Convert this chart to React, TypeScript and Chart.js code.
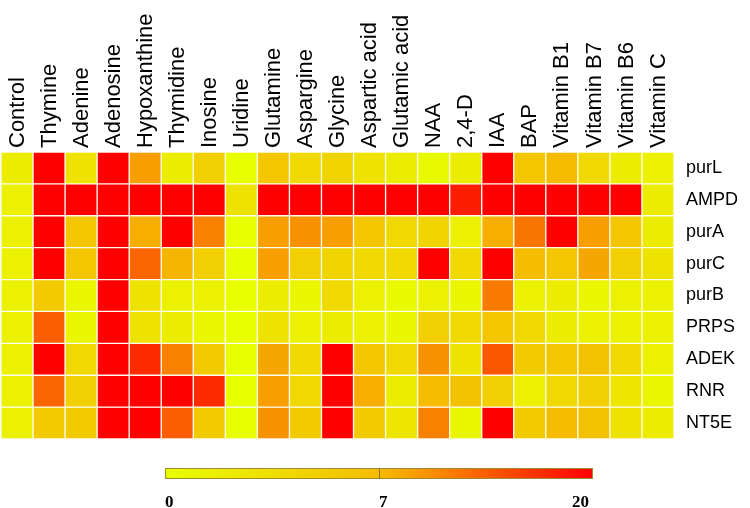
import React, { useEffect, useRef } from "react";
import { Chart, registerables } from "chart.js";
Chart.register(...registerables);

const TREATMENTS = [
  "Control", "Thymine", "Adenine", "Adenosine", "Hypoxanthine", "Thymidine", "Inosine",
  "Uridine", "Glutamine", "Aspargine", "Glycine", "Aspartic acid", "Glutamic acid",
  "NAA", "2,4-D", "IAA", "BAP", "Vitamin B1", "Vitamin B7", "Vitamin B6", "Vitamin C",
];
const GENES = ["purL", "AMPD", "purA", "purC", "purB", "PRPS", "ADEK", "RNR", "NT5E"];

const purL = [2, 20, 3, 20, 9, 2, 5, 0, 6, 4, 4.5, 3, 2, 0.5, 2, 20, 6, 7, 4, 2, 1.5];
const AMPD = [1.5, 20, 20, 20, 20, 20, 20, 3, 20, 20, 20, 20, 20, 20, 18, 20, 20, 20, 20, 20, 2];
const purA = [1.5, 20, 6, 20, 8, 20, 11, 0, 9, 10, 9, 6, 4, 4.5, 1.5, 8, 12, 20, 9, 6, 2];
const purC = [1.5, 20, 6, 20, 13, 7.5, 5, 0, 9, 5, 4.5, 4, 4, 20, 4, 20, 7, 6, 8.5, 5, 3];
const purB = [1.5, 5.5, 1, 20, 3, 1.5, 1.5, 0, 2, 1, 4, 1.5, 0.5, 1.5, 1, 11.5, 1.5, 2, 1, 1.5, 1.5];
const PRPS = [1.5, 13.5, 1, 20, 3, 2, 1, 0, 3, 1.5, 2, 1.5, 1, 5, 4, 6, 4, 2, 1.5, 1.5, 1.5];
const ADEK = [1.5, 20, 4, 20, 17, 11, 5.5, 0, 8.5, 4, 20, 6, 4, 10, 3, 14, 5.5, 6, 6.5, 4, 1.5];
const RNR = [1.5, 13, 5, 20, 20, 20, 17, 0, 9, 4, 20, 8, 2, 7, 6.5, 5, 1.5, 4, 5, 2.5, 1];
const NT5E = [1.5, 5.5, 5.5, 20, 20, 13.5, 5.5, 0, 10, 5.5, 20, 5.5, 2.5, 11, 1, 20, 5.5, 7, 6.5, 3, 2];

const ROWS = [purL, AMPD, purA, purC, purB, PRPS, ADEK, RNR, NT5E];
const SCALE_TICKS = [0, 7, 20];

const STOPS: [number, number[]][] = [
  [0, [232, 255, 0]],
  [7, [245, 188, 0]],
  [20, [255, 0, 0]],
];

function colorFor(v: number): string {
  let i = 0;
  while (i < STOPS.length - 2 && v > STOPS[i + 1][0]) i++;
  const [v0, c0] = STOPS[i];
  const [v1, c1] = STOPS[i + 1];
  const t = Math.max(0, Math.min(1, (v - v0) / (v1 - v0)));
  const c = c0.map((a, k) => Math.round(a + (c1[k] - a) * t));
  return `rgb(${c[0]},${c[1]},${c[2]})`;
}

const colorbarPlugin = {
  id: "colorbar",
  afterDraw(chart: any) {
    const ctx = chart.ctx as CanvasRenderingContext2D;
    const x0 = 165, x1 = 593, y0 = 468, h = 11;
    const xm = (x0 + x1) / 2;
    const posOf = (v: number) => (v <= 7 ? x0 + (v / 7) * (xm - x0) : xm + ((v - 7) / 13) * (x1 - xm));
    const grad = ctx.createLinearGradient(x0, 0, x1, 0);
    for (let k = 0; k <= 40; k++) {
      const p = k / 40;
      const v = p <= 0.5 ? p * 14 : 7 + (p - 0.5) * 26;
      grad.addColorStop(p, colorFor(v));
    }
    ctx.save();
    ctx.fillStyle = grad;
    ctx.fillRect(x0, y0, x1 - x0, h);
    ctx.strokeStyle = "#a08a30";
    ctx.lineWidth = 1;
    ctx.strokeRect(x0 + 0.5, y0 + 0.5, x1 - x0 - 1, h - 1);
    ctx.beginPath();
    ctx.moveTo(Math.round(posOf(7)) + 0.5, y0);
    ctx.lineTo(Math.round(posOf(7)) + 0.5, y0 + h);
    ctx.strokeStyle = "#8a7020";
    ctx.stroke();
    ctx.fillStyle = "#000";
    ctx.font = "bold 17px 'Liberation Serif'";
    ctx.textBaseline = "alphabetic";
    SCALE_TICKS.forEach((t, idx) => {
      const x = posOf(t);
      const last = idx === SCALE_TICKS.length - 1;
      ctx.textAlign = last ? "right" : "left";
      ctx.fillText(String(t), last ? x - 4 : x, 507);
    });
    ctx.restore();
  },
};

export default function App() {
  const ref = useRef<HTMLCanvasElement>(null);
  useEffect(() => {
    if (!ref.current) return;
    const datasets = ROWS.map((vals, r) => ({
      label: GENES[r],
      data: vals.map(() => [r, r + 1]),
      backgroundColor: vals.map((v) => colorFor(v)),
      borderColor: "#fffdf0",
      borderWidth: 1,
      borderSkipped: false,
      grouped: false,
      barPercentage: 1,
      categoryPercentage: 1,
      yAxisID: "y",
    }));
    const chart = new Chart(ref.current, {
      type: "bar",
      data: { labels: TREATMENTS, datasets: datasets as any },
      options: {
        animation: false,
        responsive: false,
        layout: { padding: { left: 1, right: 0, top: 0, bottom: 69 } },
        plugins: { legend: { display: false }, tooltip: { enabled: false } },
        scales: {
          x: {
            type: "category",
            position: "top",
            offset: true,
            grid: { display: false, drawTicks: false },
            border: { display: false },
            ticks: {
              autoSkip: false,
              maxRotation: 90,
              minRotation: 90,
              padding: 4,
              labelOffset: 27,
              color: "#000",
              font: { family: "'Liberation Sans', Arial, sans-serif", size: 22 },
            },
            afterFit: (s: any) => {
              s.height = 152;
              s.paddingLeft = 0;
              s.paddingRight = 0;
            },
          },
          y: {
            type: "linear",
            min: 0,
            max: 9,
            reverse: true,
            display: false,
          },
          yl: {
            type: "category",
            labels: GENES,
            position: "right",
            offset: true,
            grid: { display: false, drawTicks: false },
            border: { display: false },
            ticks: {
              padding: 12,
              color: "#000",
              font: { family: "'Liberation Sans', Arial, sans-serif", size: 18 },
            },
            afterFit: (s: any) => {
              s.width = 76;
              s.paddingTop = 0;
              s.paddingBottom = 0;
            },
          },
        },
      } as any,
      plugins: [colorbarPlugin],
    });
    return () => chart.destroy();
  }, []);
  return (
    <div style={{ position: "absolute", left: 0, top: 0, width: 750, height: 508, background: "#fff" }}>
      <canvas ref={ref} width={750} height={508} style={{ display: "block" }} />
    </div>
  );
}
